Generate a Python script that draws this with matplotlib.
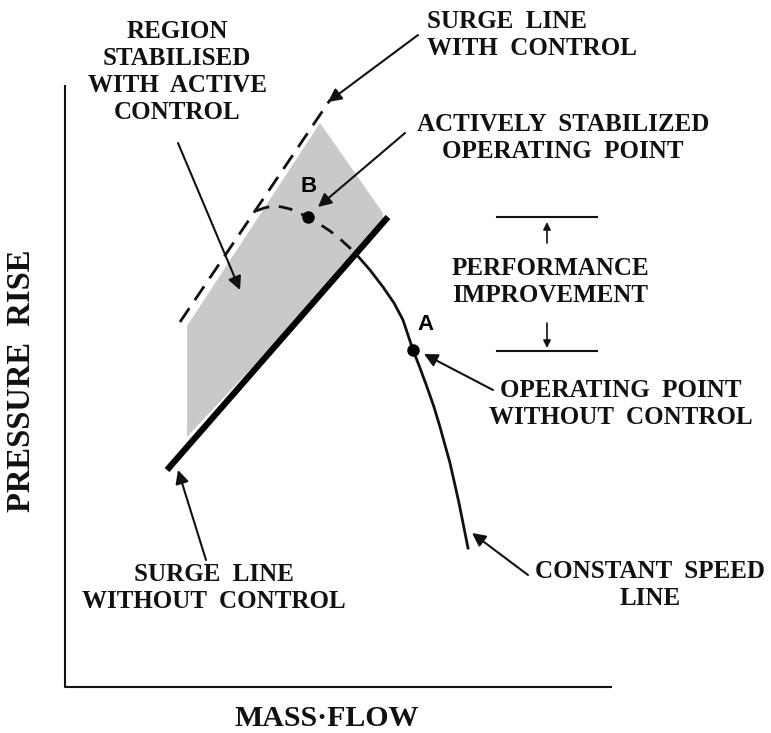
import matplotlib.pyplot as plt

# schematic compressor map, coordinates in picture units (x right, y down)
axis_x = [65, 65, 612]
axis_y = [85, 687, 687]

surge_nc_x = [167, 388]
surge_nc_y = [470, 217]

surge_c_x = [180, 330]
surge_c_y = [322, 100]

region_x = [187, 320, 383, 383, 187]
region_y = [326, 123, 213, 227, 437]

# constant speed line, first part dashed (left of the old surge line)
speed_x = [256, 264, 273, 282, 290, 298, 307, 318, 330, 340, 350, 356]
speed_y = [211, 208, 206, 207, 209, 212, 217, 223, 231, 239, 248, 254]
speed2_x = [356, 370, 383, 394, 403, 413, 420, 427, 434, 440, 450, 459, 468]
speed2_y = [254, 270, 287, 303, 320, 350, 368, 387, 407, 427, 463, 503, 548]

pt_a = (413, 350)
pt_b = (308, 217)

perf_x = [497, 597]
perf_top, perf_bot = 217, 351

serif = dict(family='Liberation Serif', weight='bold', fontsize=18, color='#111111',
             linespacing=1.22)

fig = plt.figure(figsize=(7.71, 7.33), dpi=100)
ax = fig.add_axes([0, 0, 1, 1])
ax.set_xlim(0, 771)
ax.set_ylim(733, 0)
ax.axis('off')

ax.plot(axis_x, axis_y, color='#111111', lw=1.5, solid_capstyle='butt')

ax.fill(region_x, region_y, color='#c9c9c9', lw=0)
ax.plot(surge_nc_x, surge_nc_y, color='black', lw=4.5, solid_capstyle='butt')
ax.plot(surge_c_x, surge_c_y, color='#111111', lw=2, dashes=(6, 3.5))
ax.plot(speed_x, speed_y, color='#111111', lw=2, dashes=(5, 3.5))
ax.plot(speed2_x, speed2_y, color='#111111', lw=2)

ax.plot(*pt_a, 'o', color='black', ms=8)
ax.plot(*pt_b, 'o', color='black', ms=8)
ax.text(pt_b[0] + 1, pt_b[1] - 30, 'B', family='Liberation Sans', weight='bold',
        fontsize=16, ha='center', va='center')
ax.text(pt_a[0] + 13, pt_a[1] - 25, 'A', family='Liberation Sans', weight='bold',
        fontsize=16, ha='center', va='center')

# performance improvement bracket
ax.plot(perf_x, [perf_top] * 2, color='#111111', lw=1.5)
ax.plot(perf_x, [perf_bot] * 2, color='#111111', lw=1.5)
mid = sum(perf_x) / 2

arr = dict(arrowstyle='-|>', color='#111111', lw=1.5, mutation_scale=20,
           shrinkA=0, shrinkB=0)
small = dict(arrowstyle='-|>', color='#111111', lw=1.2, mutation_scale=11,
             shrinkA=0, shrinkB=0)
ax.annotate('', xy=(mid, perf_top + 5), xytext=(mid, perf_top + 26), arrowprops=small)
ax.annotate('', xy=(mid, perf_bot - 3), xytext=(mid, perf_bot - 28), arrowprops=small)

ax.text(550, 282, 'PERFORMANCE\nIMPROVEMENT', ha='center', va='center', **serif)

ax.text(177, 72, 'REGION\nSTABILISED\nWITH  ACTIVE\nCONTROL', ha='center', va='center',
        **serif)
ax.annotate('', xy=(240, 290), xytext=(178, 143), arrowprops=arr)

ax.text(427, 35, 'SURGE  LINE\nWITH  CONTROL', ha='left', va='center', **serif)
ax.annotate('', xy=(328, 102), xytext=(418, 35), arrowprops=arr)

ax.text(563, 138, 'ACTIVELY  STABILIZED\nOPERATING  POINT', ha='center', va='center',
        **serif)
ax.annotate('', xy=(318, 207), xytext=(405, 133), arrowprops=arr)

ax.text(621, 404, 'OPERATING  POINT\nWITHOUT  CONTROL', ha='center', va='center',
        **serif)
ax.annotate('', xy=(424, 354), xytext=(493, 390), arrowprops=arr)

ax.text(214, 588, 'SURGE  LINE\nWITHOUT  CONTROL', ha='center', va='center', **serif)
ax.annotate('', xy=(178, 470), xytext=(206, 560), arrowprops=arr)

ax.text(650, 585, 'CONSTANT  SPEED\nLINE', ha='center', va='center', **serif)
ax.annotate('', xy=(472, 533), xytext=(528, 575), arrowprops=arr)

ax.text(22, 381, 'PRESSURE  RISE', rotation=90, ha='center', va='center',
        **{**serif, 'fontsize': 23.5})
ax.text(327, 719, 'MASS\u00b7FLOW', ha='center', va='center',
        **{**serif, 'fontsize': 21.5})

fig.savefig('out.png', dpi=100)
